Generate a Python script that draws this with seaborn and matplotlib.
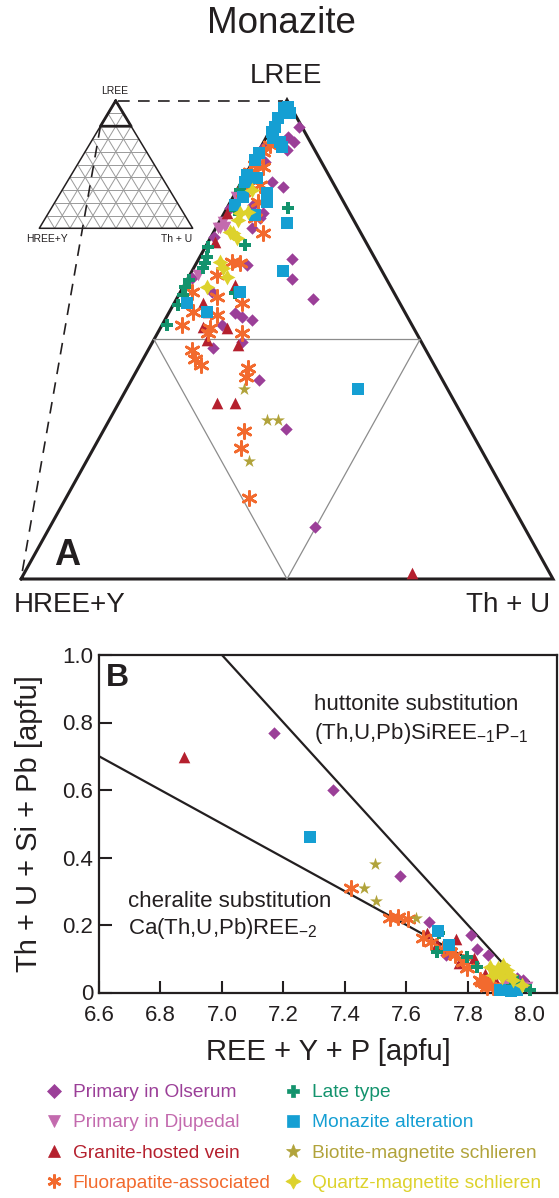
import numpy as np
import pandas as pd
import matplotlib
matplotlib.use("Agg")
import matplotlib.pyplot as plt
from matplotlib.lines import Line2D
import seaborn as sns

sns.set_style("ticks")
plt.rcParams['font.family'] = ['Liberation Sans', 'DejaVu Sans']
plt.rcParams['mathtext.fontset'] = 'custom'
plt.rcParams['mathtext.rm'] = 'Liberation Sans'
plt.rcParams['mathtext.default'] = 'regular'

W, H = 559, 1198
DARK = '#231f20'

# ---------------- data ----------------
groups = ["Primary in Olserum", "Primary in Djupedal", "Granite-hosted vein",
          "Fluorapatite-associated", "Late type", "Monazite alteration",
          "Biotite-magnetite schlieren", "Quartz-magnetite schlieren"]
colors = ['#9b3f98', '#c36aae', '#b5202e', '#f26a2e',
          '#13936d', '#159fd3', '#b1a33b', '#ddd22c']

# ternary (A): LREE and Th+U in %, HREE+Y = remainder
lree_olserum = [98.86, 98.47, 98.26, 97.91, 98.05, 97.70, 96.56, 96.36, 95.62, 95.48, 95.27, 94.29,
                94.64, 95.06, 93.11, 91.09, 90.95, 90.81, 90.61, 89.91, 89.63, 92.00, 92.56, 93.36,
                92.51, 91.69, 88.31, 86.28, 82.18, 97.42, 96.66]
thu_olserum = [1.03, 0.82, 1.13, 1.03, 0.10, 0.10, 1.14, 1.68, 0.93, 0.10, 1.45, 0.10,
               1.35, 1.46, 1.93, 2.50, 2.82, 3.27, 2.24, 3.34, 2.41, 1.17, 0.14, 3.50,
               3.92, 5.12, 4.81, 6.84, 9.98, 0.46, 0.10]
lree_djupedal = [95.96, 94.92, 94.64, 94.64, 94.71, 92.69]
thu_djupedal = [0.10, 0.15, 0.08, 0.16, 0.31, 0.32]
lree_granite = [95.27, 94.08, 92.28, 91.51, 91.16, 90.53, 90.47, 89.98, 89.77, 87.34, 87.34, 80.24]
thu_granite = [0.10, 0.25, 1.91, 1.10, 1.46, 1.59, 2.50, 1.99, 3.28, 3.69, 4.39, 14.57]
lree_fluor = [98.12, 97.84, 97.29, 97.22, 97.01, 96.45, 96.45, 96.17, 95.75, 94.43, 95.06, 93.25,
              93.18, 92.69, 92.00, 91.79, 91.51, 91.16, 90.61, 90.47, 90.26, 90.26, 89.56, 91.02,
              89.17, 88.94, 88.80, 88.45, 86.18, 85.46, 83.39]
thu_fluor = [0.30, 0.19, 0.15, 0.50, 0.11, 0.76, 0.38, 0.27, 1.04, 1.89, 1.27, 1.30,
             1.64, 1.01, 0.42, 1.46, 2.54, 0.90, 0.74, 1.87, 1.91, 3.17, 1.64, 1.85,
             1.97, 2.28, 4.15, 4.24, 5.28, 5.54, 6.87]
lree_late = [96.24, 95.48, 95.41, 93.95, 93.88, 93.46, 93.18, 92.97, 92.48, 92.20, 91.86, 91.44, 90.61, 91.93]
thu_late = [0.10, 2.31, 0.34, 1.45, 0.10, 0.25, 0.33, 0.37, 0.06, 0.06, 0.17, 0.19, 0.17, 2.08]
lree_alter = [99.72, 99.65, 99.45, 99.24, 98.89, 98.68, 98.40, 98.26, 98.05, 97.77, 97.50, 96.87,
              96.59, 96.73, 96.10, 95.75, 95.96, 95.62, 95.20, 94.85, 92.87, 92.00, 91.51, 91.16, 87.93]
thu_alter = [0.19, 0.05, 0.39, 0.06, 0.11, 0.09, 0.28, 0.61, 0.78, 0.05, 0.05, 0.05,
             0.13, 0.50, 1.18, 1.36, 0.38, 0.24, 1.20, 2.56, 3.42, 2.24, 0.47, 1.40, 8.71]
lree_biotite = [87.93, 86.64, 86.64, 84.94]
thu_biotite = [4.40, 5.94, 6.36, 6.09]
lree_quartz = [96.24, 95.27, 95.34, 94.99, 94.50, 94.23, 93.25, 92.97, 92.62, 92.20, 94.43]
thu_quartz = [0.55, 0.60, 0.88, 0.67, 0.61, 1.00, 0.86, 1.12, 1.42, 0.88, 0.76]

# scatter (B): REE+Y+P vs Th+U+Si+Pb [apfu]
x_olserum = [7.17, 7.36, 7.58, 7.675, 7.81, 7.83, 7.865, 7.73, 7.96, 7.98, 7.89, 7.93]
y_olserum = [0.77, 0.60, 0.345, 0.21, 0.17, 0.13, 0.11, 0.11, 0.042, 0.037, 0.06, 0.05]
x_djupedal = [7.926, 7.942, 7.91, 7.959, 7.991, 7.935]
y_djupedal = [0.022, 0.017, 0.012, 0.012, 0.017, 0.03]
x_granite = [6.875, 7.666, 7.70, 7.76, 7.82, 7.77, 7.855, 7.89]
y_granite = [0.697, 0.175, 0.144, 0.158, 0.103, 0.087, 0.056, 0.032]
x_fluor = [7.42, 7.547, 7.574, 7.606, 7.655, 7.742, 7.758, 7.796, 7.785, 7.845, 7.861, 7.883,
           7.839, 7.856, 7.872, 7.72, 7.68]
y_fluor = [0.311, 0.220, 0.225, 0.217, 0.161, 0.121, 0.111, 0.072, 0.091, 0.032, 0.017, 0.017,
           0.037, 0.027, 0.037, 0.13, 0.15]
x_late = [7.705, 7.699, 7.796, 7.829, 7.959, 8.003, 7.94]
y_late = [0.177, 0.121, 0.104, 0.075, 0.034, 0.007, 0.02]
x_alter = [7.287, 7.704, 7.740, 7.904, 7.959, 7.94]
y_alter = [0.460, 0.182, 0.142, 0.007, 0.007, 0.005]
x_biotite = [7.498, 7.463, 7.500, 7.630]
y_biotite = [0.381, 0.311, 0.270, 0.222]
x_quartz = [7.872, 7.899, 7.926, 7.883, 7.910, 7.937, 7.915, 7.948, 7.975, 7.89, 7.905]
y_quartz = [0.076, 0.072, 0.067, 0.052, 0.047, 0.052, 0.081, 0.037, 0.022, 0.062, 0.06]

x_ticks = [6.6, 6.8, 7.0, 7.2, 7.4, 7.6, 7.8, 8.0]
y_ticks = [0, 0.2, 0.4, 0.6, 0.8, 1.0]
y_ticklabels = ['0', '0.2', '0.4', '0.6', '0.8', '1.0']

tern_lree = [lree_olserum, lree_djupedal, lree_granite, lree_fluor, lree_late, lree_alter, lree_biotite, lree_quartz]
tern_thu = [thu_olserum, thu_djupedal, thu_granite, thu_fluor, thu_late, thu_alter, thu_biotite, thu_quartz]
sc_x = [x_olserum, x_djupedal, x_granite, x_fluor, x_late, x_alter, x_biotite, x_quartz]
sc_y = [y_olserum, y_djupedal, y_granite, y_fluor, y_late, y_alter, y_biotite, y_quartz]

# marker styles
markers = ['D', 'v', '^', (6, 2, 0), 'P', 's', '*', (4, 1, 0)]
sizes = [40, 70, 70, 105, 70, 64, 95, 130]
lws = [0, 0, 0, 1.9, 0, 0, 0, 0]

# ---------------- figure ----------------
fig = plt.figure(figsize=(W / 100, H / 100), dpi=100)


def fx(px):
    return px / W


def fy(py):
    return 1 - py / H


# ternary axes : triangle corners at pixel BL(21,579) BR(553,579) apex(287,100)
ax_t = fig.add_axes([fx(21), fy(579), 532 / W, 479 / H])
ax_t.set_xlim(0, 1)
ax_t.set_ylim(0, 1)
ax_t.axis('off')


def tx(px):
    return (px - 21) / 532


def ty(py):
    return (579 - py) / 479


# main triangle and mid-triangle
ax_t.plot([0, 0.5, 1, 0], [0, 1, 0, 0], color=DARK, lw=2.2, clip_on=False, solid_joinstyle='miter')
ax_t.plot([0.25, 0.75, 0.5, 0.25], [0.5, 0.5, 0, 0.5], color='#8c8c8c', lw=0.9, clip_on=False)

# inset full ternary with grid
A = np.array([tx(115.7), ty(100.7)])
B = np.array([tx(39.3), ty(228.3)])
C = np.array([tx(192.7), ty(228.3)])
for i in range(1, 10):
    t = i / 10
    for p, q in [(A + t * (B - A), A + t * (C - A)),
                 (B + t * (C - B), A + t * (C - A)),
                 (C + t * (B - C), A + t * (B - A))]:
        ax_t.plot([p[0], q[0]], [p[1], q[1]], color='#9a9a9a', lw=0.7, clip_on=False)
ax_t.plot([A[0], B[0], C[0], A[0]], [A[1], B[1], C[1], A[1]], color=DARK, lw=1.1, clip_on=False)
b2 = A + 0.2 * (B - A)
c2 = A + 0.2 * (C - A)
ax_t.plot([A[0], b2[0], c2[0], A[0]], [A[1], b2[1], c2[1], A[1]], color=DARK, lw=2.0, clip_on=False)

# dashed zoom lines
ax_t.plot([tx(118), tx(283)], [ty(100.5), ty(100.5)], color=DARK, lw=1.2, ls=(0, (7, 5)), clip_on=False)
ax_t.plot([b2[0], 0.0], [b2[1], 0.0], color=DARK, lw=1.2, ls=(0, (7, 5)), clip_on=False)

# ternary data
for g, lr, th, c, m, s, lw in zip(groups, tern_lree, tern_thu, colors, markers, sizes, lws):
    lr = np.array(lr)
    th = np.array(th)
    w = (lr - 80) / 20
    v = th / 20
    df = pd.DataFrame({'X': v + w / 2, 'Y': w})
    sns.scatterplot(data=df, x='X', y='Y', ax=ax_t, marker=m, s=s, color=c,
                    edgecolor=c, linewidth=lw, legend=False, clip_on=False, zorder=3)
ax_t.set_xlabel('')
ax_t.set_ylabel('')

fig.text(fx(281.6), fy(23.5), 'Monazite', ha='center', va='center', fontsize=26.5, color=DARK)
fig.text(fx(286), fy(76), 'LREE', ha='center', va='center', fontsize=20, color=DARK)
fig.text(fx(70), fy(605), 'HREE+Y', ha='center', va='center', fontsize=20, color=DARK)
fig.text(fx(508), fy(605), 'Th + U', ha='center', va='center', fontsize=20, color=DARK)
fig.text(fx(67), fy(556), 'A', ha='center', va='center', fontsize=26, fontweight='bold', color=DARK)
fig.text(fx(115), fy(91.5), 'LREE', ha='center', va='center', fontsize=7.5, color=DARK)
fig.text(fx(47), fy(239), 'HREE+Y', ha='center', va='center', fontsize=7.5, color=DARK)
fig.text(fx(177), fy(239), 'Th + U', ha='center', va='center', fontsize=7.5, color=DARK)

# ---------------- scatter B ----------------
ax_b = fig.add_axes([fx(99), fy(992.5), 458 / W, 337.5 / H])
for g, xs, ys, c, m, s, lw in zip(groups, sc_x, sc_y, colors, markers, sizes, lws):
    df = pd.DataFrame({'x': xs, 'y': ys})
    sns.scatterplot(data=df, x='x', y='y', ax=ax_b, marker=m, s=s, color=c,
                    edgecolor=c, linewidth=lw, legend=False, clip_on=False, zorder=3)

hx = np.array([7.0, 7.91])
ax_b.plot(hx, 8 - hx, color=DARK, lw=1.6, zorder=2)
cx = np.array([6.6, 7.78])
ax_b.plot(cx, (8 - cx) / 2, color=DARK, lw=1.6, zorder=2)

ax_b.set_xlim(6.6, 8.09)
ax_b.set_ylim(0, 1.0)
ax_b.set_xticks(x_ticks)
ax_b.set_xticklabels([f'{v:.1f}' for v in x_ticks])
ax_b.set_yticks(y_ticks)
ax_b.set_yticklabels(y_ticklabels)
ax_b.tick_params(direction='in', length=9, width=1.5, labelsize=16, colors=DARK)
ax_b.tick_params(axis='x', pad=9)
ax_b.tick_params(axis='y', pad=4)
for sp in ax_b.spines.values():
    sp.set_linewidth(1.6)
    sp.set_color(DARK)
ax_b.set_xlabel('REE + Y + P [apfu]', fontsize=21, color=DARK, labelpad=9)
ax_b.set_ylabel('Th + U + Si + Pb [apfu]', fontsize=21, color=DARK, labelpad=14)

ax_b.text(7.30, 0.852, 'huttonite substitution', fontsize=16, color=DARK, va='center')
ax_b.text(7.30, 0.768, '(Th,U,Pb)SiREE$_{-1}$P$_{-1}$', fontsize=16, color=DARK, va='center')
ax_b.text(6.695, 0.269, 'cheralite substitution', fontsize=16, color=DARK, va='center')
ax_b.text(6.695, 0.19, 'Ca(Th,U,Pb)REE$_{-2}$', fontsize=16, color=DARK, va='center')
ax_b.text(0.015, 0.975, 'B', transform=ax_b.transAxes, fontsize=23, fontweight='bold',
          color=DARK, va='top', ha='left')

# ---------------- legend ----------------
msizes = [7, 9, 9, 10, 9, 8.5, 10, 11]
handles = []
for c, m, ms, lw in zip(colors, markers, msizes, lws):
    handles.append(Line2D([], [], linestyle='', marker=m, color=c, markeredgecolor=c,
                          markersize=ms, markeredgewidth=lw if lw else 0.5))
leg = fig.legend(handles, groups, loc='upper left', bbox_to_anchor=(fx(44), fy(1084)),
                 ncol=2, frameon=False, fontsize=13.8, handlelength=1.0, handletextpad=0.5,
                 columnspacing=0.65, labelspacing=0.66, borderpad=0, borderaxespad=0)
for t, c in zip(leg.get_texts(), colors):
    t.set_color(c)

fig.savefig('out.png', dpi=100)
